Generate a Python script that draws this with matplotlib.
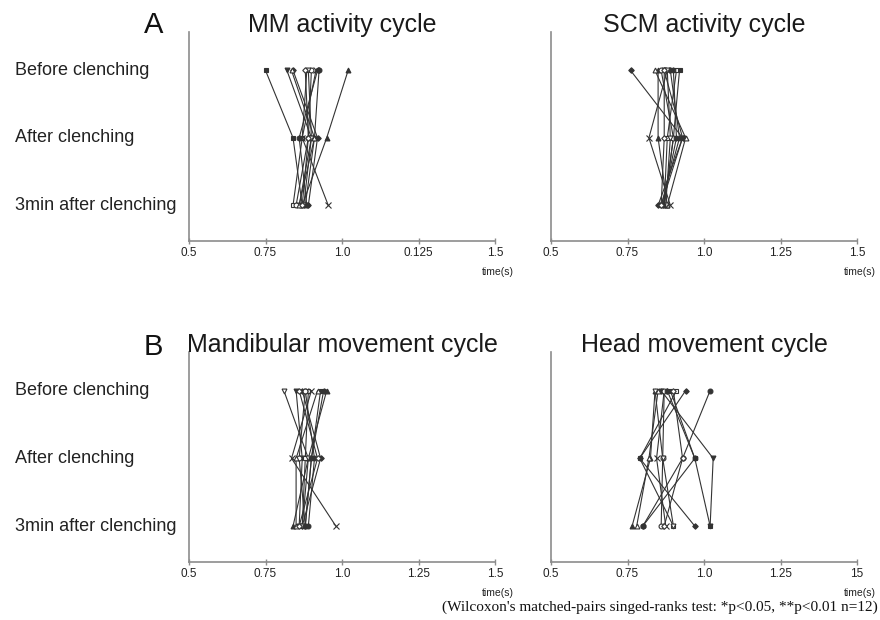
import numpy as np
import matplotlib.pyplot as plt
from matplotlib.transforms import blended_transform_factory

plt.rcParams['font.family'] = ['Liberation Sans', 'DejaVu Sans']

# conditions, top to bottom
conditions = ['Before clenching', 'After clenching', '3min after clenching']

# one row per subject: before, after, 3min (seconds)
mm_cycle = [
    [0.75, 0.84, 0.87], [0.82, 0.90, 0.86], [1.02, 0.95, 0.87], [0.885, 0.87, 0.84],
    [0.915, 0.87, 0.955], [0.925, 0.91, 0.88], [0.84, 0.92, 0.89], [0.90, 0.89, 0.85],
    [0.835, 0.91, 0.86], [0.89, 0.90, 0.875], [0.92, 0.86, 0.885], [0.88, 0.89, 0.87],
]
scm_cycle = [
    [0.92, 0.90, 0.87], [0.87, 0.93, 0.86], [0.85, 0.85, 0.88], [0.91, 0.88, 0.87],
    [0.88, 0.82, 0.89], [0.89, 0.92, 0.86], [0.76, 0.93, 0.85], [0.86, 0.90, 0.87],
    [0.84, 0.94, 0.88], [0.88, 0.89, 0.875], [0.90, 0.91, 0.865], [0.87, 0.87, 0.86],
]
mandible_cycle = [
    [0.93, 0.90, 0.88], [0.85, 0.87, 0.86], [0.95, 0.89, 0.84], [0.89, 0.88, 0.87],
    [0.90, 0.835, 0.98], [0.88, 0.91, 0.89], [0.87, 0.93, 0.87], [0.88, 0.86, 0.88],
    [0.92, 0.85, 0.85], [0.81, 0.89, 0.87], [0.94, 0.90, 0.88], [0.86, 0.92, 0.86],
]
head_cycle = [
    [0.89, 0.97, 1.02], [0.86, 1.03, 1.02], [0.84, 0.825, 0.765], [0.91, 0.79, 0.90],
    [0.87, 0.845, 0.875], [1.02, 0.93, 0.80], [0.94, 0.79, 0.97], [0.87, 0.865, 0.86],
    [0.85, 0.82, 0.78], [0.84, 0.865, 0.90], [0.88, 0.97, 0.80], [0.90, 0.93, 0.87],
]

xticks = [0.5, 0.75, 1.0, 1.25, 1.5]
labels_mm = ['0.5', '0.75', '1.0', '0.125', '1.5']
labels_std = ['0.5', '0.75', '1.0', '1.25', '1.5']
labels_head = ['0.5', '0.75', '1.0', '1.25', '15']

# marker per subject: (shape, filled)
markers = [('s', True), ('v', True), ('^', True), ('s', False), ('x', True), ('o', True),
           ('D', True), ('o', False), ('^', False), ('v', False), ('h', True), ('D', False)]

W, H = 880, 620
fig = plt.figure(figsize=(8.8, 6.2), dpi=100)

def box(l, r, t, b):
    return [l / W, 1 - b / H, (r - l) / W, (b - t) / H]

panels = [
    (box(189, 495, 32, 241), 'MM activity cycle', mm_cycle, labels_mm, True),
    (box(551, 857, 32, 241), 'SCM activity cycle', scm_cycle, labels_std, False),
    (box(189, 495, 352, 562), 'Mandibular movement cycle', mandible_cycle, labels_std, True),
    (box(551, 857, 352, 562), 'Head movement cycle', head_cycle, labels_head, False),
]

ypos = [2, 1, 0]
line_col = '#333333'
spine_col = '#8c8c8c'
sizes = {'x': 4.2, 'D': 2.8, 'h': 3.8}

for rect, title, data, xlabels, show_rows in panels:
    ax = fig.add_axes(rect)
    for vals, (m, filled) in zip(data, markers):
        face = line_col if filled else 'white'
        ax.plot(vals, ypos, color=line_col, lw=0.8, marker=m, ms=sizes.get(m, 3.5),
                mfc=face, mec=line_col, mew=0.8, zorder=3)
    ax.set_xlim(0.5, 1.5)
    ax.set_ylim(-0.53, 2.57)
    ax.set_xticks(xticks)
    ax.set_xticklabels(xlabels)
    ax.set_yticks([])
    ax.tick_params(axis='x', direction='inout', length=4, width=1, color=spine_col,
                   labelsize=8.5, pad=2, labelcolor='#222222')
    for s in ['top', 'right']:
        ax.spines[s].set_visible(False)
    for s in ['left', 'bottom']:
        ax.spines[s].set_color(spine_col)
        ax.spines[s].set_linewidth(1.2)
    ax.text(0.5, 1.0, title, transform=ax.transAxes, ha='center', va='baseline',
            fontsize=18, color='#1a1a1a')
    ax.text(1.01, -0.15, 'time(s)', transform=ax.transAxes, ha='center', va='center',
            fontsize=7.5, color='#222222')
    if show_rows:
        tr = blended_transform_factory(fig.transFigure, ax.transData)
        for lab, y in zip(conditions, ypos):
            fig.text(15 / W, y, lab, transform=tr, ha='left', va='center',
                     fontsize=13, color='#222222')

fig.text(163 / W, 1 - 33 / H, 'A', ha='right', va='baseline', fontsize=21, color='#111111')
fig.text(163 / W, 1 - 355 / H, 'B', ha='right', va='baseline', fontsize=21, color='#111111')

fig.text(878 / W, 1 - 607 / H,
         "(Wilcoxon's matched-pairs singed-ranks test: *p<0.05, **p<0.01 n=12)",
         ha='right', va='center', fontsize=11, family=['Liberation Serif', 'DejaVu Serif'],
         color='#111111')

fig.savefig('out.png', dpi=100)
